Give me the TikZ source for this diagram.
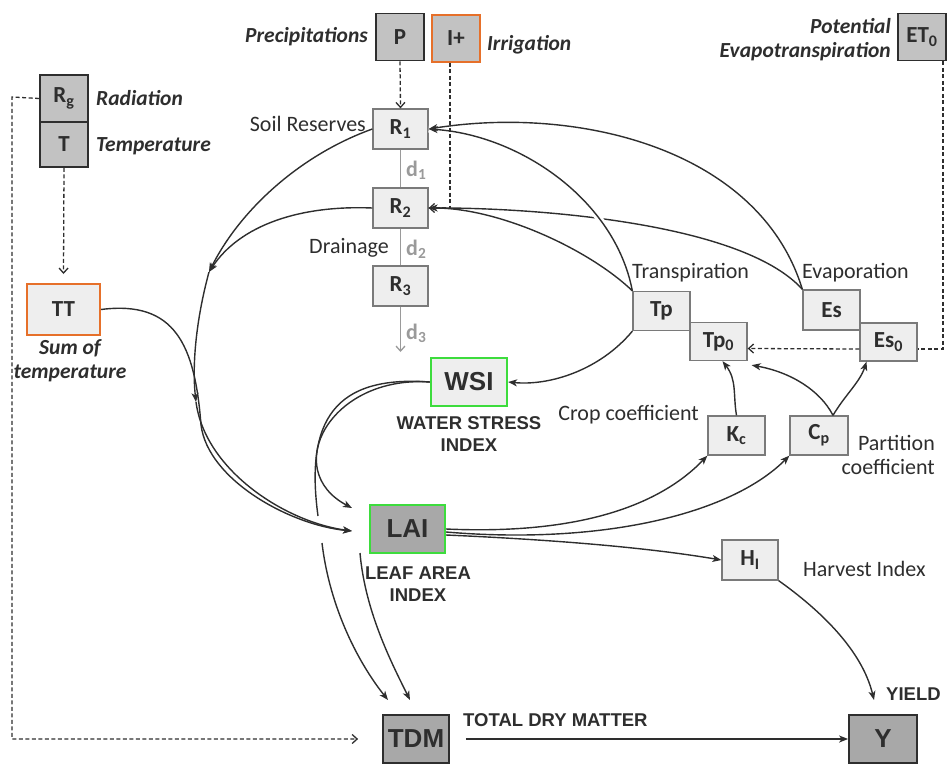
\documentclass[tikz,border=0pt]{standalone}
\usepackage{fontspec}
\setmainfont{Carlito}
\newfontfamily\arialfont{Liberation Sans}
\usepackage{tikz}
\usetikzlibrary{positioning,calc,arrows.meta}

\definecolor{ink}{HTML}{2E2E2E}
\definecolor{boxdark}{HTML}{C2C2C2}
\definecolor{boxmid}{HTML}{A8A8A8}
\definecolor{boxlight}{HTML}{EEEEEE}
\definecolor{edgegray}{HTML}{7A7A7A}
\definecolor{edgeorange}{HTML}{E6702A}
\definecolor{edgegreen}{HTML}{3DDC3D}
\definecolor{drain}{HTML}{9A9A9A}

\begin{document}
\begin{tikzpicture}[x=1pt,y=-1pt,
    lbox/.style={draw=edgegray, fill=boxlight, line width=1.3pt, inner sep=0pt,
      minimum width=57pt, minimum height=39pt, font=\bfseries\fontsize{23}{24}\selectfont, text=ink},
    dbox/.style={lbox, draw=ink, fill=boxdark, line width=1.8pt, minimum width=48pt, minimum height=47pt},
    obox/.style={lbox, draw=edgeorange, line width=2pt},
    gbox/.style={lbox, draw=edgegreen, line width=2.2pt, minimum width=76pt, minimum height=48pt,
      font=\arialfont\bfseries\fontsize{26}{26}\selectfont},
    abox/.style={dbox, fill=boxmid, minimum width=66pt, minimum height=48pt,
      font=\arialfont\bfseries\fontsize{26}{26}\selectfont},
    lab/.style={font=\fontsize{22}{24}\selectfont, text=ink, inner sep=0pt},
    ilab/.style={font=\bfseries\itshape\fontsize{21.5}{24}\selectfont, text=ink, inner sep=0pt},
    clab/.style={font=\arialfont\bfseries\fontsize{18.5}{22}\selectfont, text=ink, align=center, inner sep=0pt},
    wire/.style={draw=ink, line width=1.4pt},
    flow/.style={wire, -{Stealth[length=9pt,width=7pt,inset=2.5pt]}},
    feed/.style={draw=ink, line width=1.3pt, dash pattern=on 4pt off 2.5pt, -{Straight Barb[length=5pt,width=9pt]}},
    dline/.style={feed, -},
    gap/.style={preaction={draw=white, line width=7pt, -}}]

    \useasboundingbox (0,0) rectangle (952,763);

    % Weather inputs
    \node[dbox] (Rg) at (64,98.5) {R\textsubscript{g}};
    \node[dbox, minimum height=45pt] (T) at (64,144.5) {T};
    \node[ilab, anchor=west] at (96,98) {Radiation};
    \node[ilab, anchor=west] at (96,146) {Temperature};
    \node[obox, minimum width=73pt, minimum height=51pt] (TT) at (63.5,309.5) {TT};
    \node[ilab, align=center] at (70,361) {Sum of\\temperature};

    \node[dbox] (P) at (400,37) {P};
    \node[dbox, draw=edgeorange, line width=2pt] (Ip) at (456,38) {I+};
    \node[ilab, anchor=east] at (368,37) {Precipitations};
    \node[ilab, anchor=west] at (487,45) {Irrigation};

    \node[dbox] (ET) at (922,37) {ET\textsubscript{0}};
    \node[ilab, anchor=east, align=right] at (891,40) {Potential\\Evapotranspiration};

    % Soil reserves
    \node[lbox, minimum width=55pt, minimum height=40pt] (R1) at (400.5,129) {R\textsubscript{1}};
    \node[lbox, minimum width=55pt, minimum height=40pt] (R2) at (400.5,208) {R\textsubscript{2}};
    \node[lbox, minimum width=55pt, minimum height=40pt] (R3) at (400.5,286) {R\textsubscript{3}};
    \coordinate (R3out) at (400.5,352);
    \node[lab, anchor=east] at (366,124) {Soil Reserves};
    \node[lab, anchor=east] at (389,248) {Drainage};
    \draw[drain, line width=1.3pt] (R1) -- (R2);
    \draw[drain, line width=1.3pt] (R2) -- (R3);
    \draw[drain, line width=1.3pt, -{Straight Barb[length=5pt,width=9pt]}] (R3) -- (R3out);
    \foreach \i/\y in {1/170, 2/249, 3/333}
        \node[font=\bfseries\fontsize{22}{22}\selectfont, text=drain, anchor=west, inner sep=0pt] at (406,\y) {d\textsubscript{\i}};

    % Water balance
    \node[lbox] (Tp) at (661.5,311) {Tp};
    \node[lbox, minimum height=38pt] (Tp0) at (718.5,341.5) {Tp\textsubscript{0}};
    \node[lbox, minimum height=40pt] (Es) at (831.5,310) {Es};
    \node[lbox, minimum height=38pt] (Es0) at (888.5,342) {Es\textsubscript{0}};
    \node[lab, anchor=west] at (632,273) {Transpiration};
    \node[lab, anchor=west] at (802,273) {Evaporation};

    \node[lbox] (Kc) at (736.5,435.5) {K\textsubscript{c}};
    \node[lbox, minimum width=58pt] (Cp) at (819,435.5) {C\textsubscript{p}};
    \node[lab, anchor=east] at (699,415) {Crop coefficient};
    \node[lab, anchor=east, align=right] at (935,455) {Partition\\coefficient};

    \node[gbox] (WSI) at (469,382) {WSI};
    \node[clab] at (469,434) {WATER STRESS\\INDEX};
    \node[gbox, fill=boxmid, minimum width=75pt] (LAI) at (407.5,529) {LAI};
    \node[clab] at (418,584) {LEAF AREA\\INDEX};

    \node[lbox, minimum width=56pt, minimum height=40pt] (HI) at (750,560) {H\textsubscript{I}};
    \node[lab, anchor=west] at (803,569) {Harvest Index};

    \node[abox] (TDM) at (416,739) {TDM};
    \node[abox, minimum width=68pt] (Y) at (883,739) {Y};
    \node[clab, anchor=west] at (463,720) {TOTAL DRY MATTER};
    \node[clab, anchor=west] at (886,694) {YIELD};

    % Uptake from the reserves
    \draw[wire] (Es.north west) .. controls (740,220) and (520,207) .. (R2.east);
    \draw[flow, gap] (Tp.north west) .. controls (615,200) and (520,135) .. (R1.east);
    \draw[flow] (Tp.north west) .. controls (590,250) and (500,208) .. (R2.east);
    \draw[flow] (Es.north west) .. controls (760,150) and (580,105) .. (R1.east);

    % Towards the leaf area
    \coordinate (J1) at (209,272);
    \coordinate (J2) at (196,402);
    \coordinate (LAIin) at (352,531);
    \draw[flow] (R1.west) .. controls (300,155) and (240,210) .. (J1);
    \draw[flow] (R2.west) .. controls (300,205) and (240,225) .. (J1);
    \draw[flow] (J1) .. controls (196,320) and (192,365) .. (J2);
    \coordinate (gapA) at (318,516);
    \coordinate (gapB) at (322,543);
    \draw[wire] (WSI.west) .. controls (335,375) and (305,420) .. (gapA);
    \draw[flow] (gapB) .. controls (330,610) and (360,665) .. (388,700);
    \draw[flow] (TT.east) .. controls (175,300) and (195,345) .. (201,425)
        .. controls (208,480) and (290,525) .. (LAIin);
    \draw[flow] (J2) .. controls (205,470) and (285,522) .. (LAIin);
    \draw[flow] (WSI.west) .. controls (330,375) and (280,470) .. (352,508);
    \draw[flow] (360,553) .. controls (365,610) and (390,660) .. (410,700);

    % Crop coefficients and yield
    \draw[flow] (Tp.south west) .. controls (600,370) and (550,386) .. (WSI.east);
    \draw[flow] (LAI.east) .. controls (580,535) and (660,505) .. (Kc.south west);
    \draw[flow] ([yshift=-3pt]LAI.east) .. controls (600,545) and (730,515) .. (Cp.south west);
    \draw[flow] ([yshift=-6pt]LAI.east) .. controls (560,540) and (650,548) .. (HI.west);
    \draw[flow] (Kc.north) .. controls (733,395) and (737,380) .. ([xshift=4pt]Tp0.south);
    \draw[flow] ([xshift=14pt]Cp.north) .. controls (820,390) and (790,372) .. ([yshift=-4pt,xshift=4pt]Tp0.south east);
    \draw[flow] ([xshift=14pt]Cp.north) .. controls (845,395) and (860,382) .. ([xshift=-22pt]Es0.south);
    \draw[flow] (HI.south east) .. controls (820,610) and (862,650) .. (874,700);
    \draw[flow, shorten <=16pt] (TDM.east) -- (Y.west);

    % Dashed inputs
    \draw[feed] (T.south) -- ([yshift=9pt]TT.north);
    \draw[feed] (Rg.west) -- (12,97) |- ([xshift=-24pt]TDM.west);
    \draw[feed] (P.south) -- (R1.north);
    \draw[feed] ([xshift=-6pt]Ip.south) |- (R2.east);
    \draw[dline] ([xshift=21pt]ET.south) |- ($(Es0.east)+(0,7)$);
    \draw[feed] ($(Es0.west)+(0,7)$) -- ($(Tp0.east)+(0,7)$);
\end{tikzpicture}
\end{document}
